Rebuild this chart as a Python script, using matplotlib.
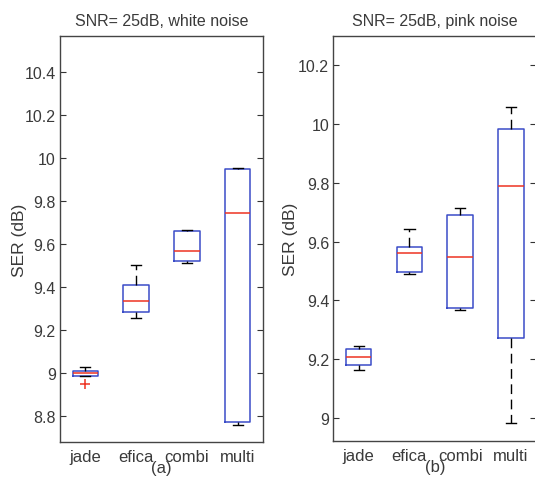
import matplotlib
matplotlib.use("Agg")
import matplotlib.pyplot as plt

plt.rcParams['font.family'] = ['Liberation Sans', 'DejaVu Sans']

categories = ["jade", "efica", "combi", "multi"]

# white noise (a)
white_whislo = [8.985, 9.255, 9.512, 8.757]
white_q1     = [8.988, 9.285, 9.519, 8.770]
white_med    = [9.000, 9.335, 9.568, 9.743]
white_q3     = [9.008, 9.410, 9.660, 9.949]
white_whishi = [9.028, 9.504, 9.667, 9.954]
white_fliers = [[8.950], [], [], []]

# pink noise (b)
pink_whislo = [9.164, 9.489, 9.368, 8.982]
pink_q1     = [9.181, 9.498, 9.373, 9.273]
pink_med    = [9.207, 9.560, 9.548, 9.788]
pink_q3     = [9.235, 9.582, 9.690, 9.983]
pink_whishi = [9.244, 9.643, 9.713, 10.057]
pink_fliers = [[], [], [], []]

titles = ["SNR= 25dB, white noise", "SNR= 25dB, pink noise"]
sublabels = ["(a)", "(b)"]
yticks_a = [8.8, 9.0, 9.2, 9.4, 9.6, 9.8, 10.0, 10.2, 10.4]
yticks_b = [9.0, 9.2, 9.4, 9.6, 9.8, 10.0, 10.2]

W, H = 535, 481
fig = plt.figure(figsize=(W / 100, H / 100), dpi=100)
axa = fig.add_axes([60 / W, (H - 443) / H, 203 / W, 406 / H])
axb = fig.add_axes([333.3 / W, (H - 442) / H, 203 / W, 405 / H])

BLUE = '#3a4cc8'
RED = '#ee3322'
TXT = '#3a3a3a'

def draw(ax, lo, q1, med, q3, hi, fl, ylim, yticks, title, sub, ylx):
    stats = []
    for i, c in enumerate(categories):
        stats.append(dict(label=c, whislo=lo[i], q1=q1[i], med=med[i],
                          q3=q3[i], whishi=hi[i], fliers=fl[i]))
    ax.bxp(stats, positions=[1, 2, 3, 4], widths=0.5, capwidths=0.2,
           boxprops=dict(color=BLUE, linewidth=1.1),
           medianprops=dict(color=RED, linewidth=1.1),
           whiskerprops=dict(color='black', linewidth=1.0, linestyle=(0, (7, 4))),
           capprops=dict(color='black', linewidth=1.0),
           flierprops=dict(marker='+', markeredgecolor=RED, markersize=7,
                           markeredgewidth=1.1, linestyle='none'))
    ax.set_xlim(0.5, 4.5)
    ax.set_ylim(*ylim)
    ax.set_yticks(yticks)
    ax.set_yticklabels([('%g' % t) for t in yticks])
    ax.tick_params(axis='y', direction='in', left=True, right=True,
                   length=4, labelsize=11.5, colors='#333333', labelcolor=TXT, pad=3)
    ax.tick_params(axis='x', length=0, labelsize=12, labelcolor=TXT, pad=5)
    ax.set_title(title, fontsize=11.5, color=TXT, pad=8)
    ax.set_ylabel("SER (dB)", fontsize=12.5, color=TXT)
    ax.yaxis.set_label_coords(ylx, 0.5)
    ax.set_xlabel(sub, fontsize=12, color=TXT, labelpad=-3)
    for s in ax.spines.values():
        s.set_color('#444444')
        s.set_linewidth(1.0)

draw(axa, white_whislo, white_q1, white_med, white_q3, white_whishi, white_fliers,
     (8.679, 10.567), yticks_a, titles[0], sublabels[0], -0.163)
draw(axb, pink_whislo, pink_q1, pink_med, pink_q3, pink_whishi, pink_fliers,
     (8.922, 10.299), yticks_b, titles[1], sublabels[1], -0.174)

fig.savefig("out.png", dpi=100, facecolor='white')
